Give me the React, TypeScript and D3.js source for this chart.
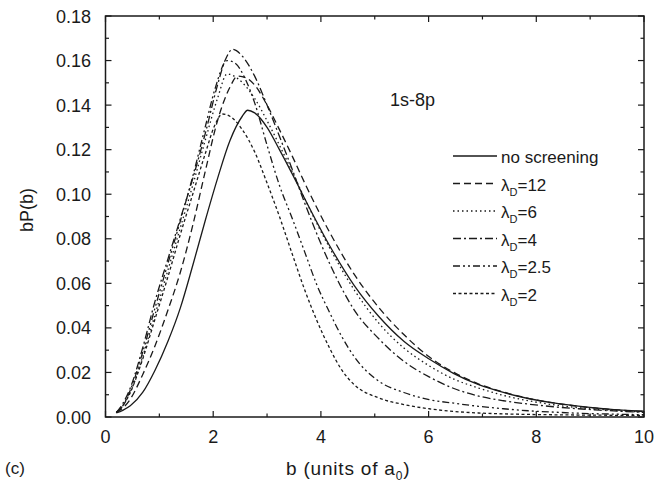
import React from 'react';
import * as d3 from 'd3';

const W = 667;
const H = 485;

const xMajorTicks = [0, 2, 4, 6, 8, 10];
const xMinorTicks = [1, 3, 5, 7, 9];
const yMajorTicks = [0, 0.02, 0.04, 0.06, 0.08, 0.1, 0.12, 0.14, 0.16, 0.18];
const yMinorTicks = [0.01, 0.03, 0.05, 0.07, 0.09, 0.11, 0.13, 0.15, 0.17];

const noScreening: [number, number][] = [
  [0.2, 0.0018], [0.32, 0.003], [0.46, 0.005], [0.69, 0.011], [0.92, 0.021], [1.16, 0.034], [1.39, 0.049],
  [1.62, 0.068], [1.85, 0.088], [2.08, 0.107], [2.31, 0.124], [2.54, 0.135], [2.64, 0.1377], [2.77, 0.1365],
  [3.0, 0.13], [3.23, 0.12], [3.47, 0.109], [3.7, 0.098], [4.16, 0.077], [4.62, 0.059], [5.08, 0.045],
  [5.54, 0.034], [6.01, 0.026], [6.47, 0.0195], [6.93, 0.0145], [7.39, 0.011], [7.85, 0.0083], [8.32, 0.0063],
  [8.78, 0.0049], [9.24, 0.0038], [9.6, 0.0031], [10, 0.0026],
];

const lambda12: [number, number][] = [
  [0.2, 0.002], [0.32, 0.004], [0.46, 0.008], [0.69, 0.019], [0.92, 0.032], [1.16, 0.048], [1.39, 0.065],
  [1.62, 0.086], [1.85, 0.11], [2.08, 0.133], [2.31, 0.148], [2.45, 0.153], [2.63, 0.152], [2.77, 0.149],
  [3.0, 0.14], [3.23, 0.129], [3.47, 0.117], [3.7, 0.105], [4.16, 0.083], [4.62, 0.064], [5.08, 0.049],
  [5.54, 0.037], [6.01, 0.027], [6.47, 0.02], [6.93, 0.0148], [7.39, 0.0112], [7.85, 0.0084], [8.32, 0.0063],
  [8.78, 0.0048], [9.24, 0.0037], [9.6, 0.003], [10, 0.0025],
];

const lambda6: [number, number][] = [
  [0.2, 0.002], [0.32, 0.005], [0.46, 0.011], [0.69, 0.027], [0.92, 0.046], [1.16, 0.066], [1.39, 0.085],
  [1.62, 0.104], [1.85, 0.124], [2.08, 0.143], [2.26, 0.154], [2.45, 0.152], [2.77, 0.143], [3.0, 0.133],
  [3.23, 0.122], [3.47, 0.11], [3.7, 0.098], [4.16, 0.076], [4.62, 0.057], [5.08, 0.042], [5.54, 0.031],
  [6.01, 0.023], [6.47, 0.017], [6.93, 0.013], [7.39, 0.0097], [7.85, 0.0073], [8.32, 0.0055], [8.78, 0.0042],
  [9.24, 0.0033], [9.6, 0.0027], [10, 0.0023],
];

const lambda4: [number, number][] = [
  [0.2, 0.002], [0.32, 0.006], [0.46, 0.013], [0.69, 0.031], [0.92, 0.052], [1.16, 0.071], [1.39, 0.089],
  [1.62, 0.107], [1.85, 0.127], [2.08, 0.149], [2.22, 0.16], [2.36, 0.165], [2.54, 0.162], [2.77, 0.153],
  [3.0, 0.14], [3.23, 0.126], [3.47, 0.111], [3.7, 0.096], [4.16, 0.069], [4.62, 0.048], [5.08, 0.035],
  [5.54, 0.025], [6.01, 0.018], [6.47, 0.0128], [6.93, 0.0094], [7.39, 0.0073], [7.85, 0.0058], [8.32, 0.0046],
  [8.78, 0.0037], [9.24, 0.003], [9.6, 0.0025], [10, 0.0021],
];

const lambda25: [number, number][] = [
  [0.2, 0.002], [0.32, 0.005], [0.46, 0.012], [0.69, 0.029], [0.92, 0.049], [1.16, 0.069], [1.39, 0.088],
  [1.62, 0.108], [1.85, 0.13], [2.03, 0.147], [2.26, 0.16], [2.4, 0.159], [2.59, 0.152], [2.77, 0.141],
  [3.0, 0.122], [3.23, 0.104], [3.47, 0.089], [3.7, 0.074], [3.93, 0.059], [4.16, 0.047], [4.39, 0.036],
  [4.62, 0.027], [5.08, 0.016], [5.54, 0.011], [6.01, 0.0078], [6.47, 0.0062], [6.93, 0.0048], [7.39, 0.0037],
  [7.85, 0.0028], [8.32, 0.0022], [8.78, 0.0017], [9.24, 0.0014], [9.6, 0.0012], [10, 0.001],
];

const lambda2: [number, number][] = [
  [0.2, 0.002], [0.32, 0.005], [0.46, 0.011], [0.69, 0.026], [0.92, 0.044], [1.16, 0.063], [1.39, 0.082],
  [1.62, 0.1], [1.85, 0.118], [2.03, 0.131], [2.17, 0.136], [2.31, 0.135], [2.54, 0.129], [2.77, 0.119],
  [3.0, 0.105], [3.23, 0.09], [3.47, 0.073], [3.7, 0.057], [3.93, 0.043], [4.16, 0.031], [4.39, 0.021],
  [4.62, 0.0145], [5.08, 0.0085], [5.54, 0.0056], [6.01, 0.0037], [6.47, 0.0025], [6.93, 0.0018],
  [7.39, 0.0014], [8.32, 0.001], [9.24, 0.0008], [10, 0.0007],
];

const seriesNames = ['no screening', '12', '6', '4', '2.5', '2'];
const seriesData = [noScreening, lambda12, lambda6, lambda4, lambda25, lambda2];
const seriesDash = ['none', '7,4', '1.5,3', '8,3,2,3', '7,3,2,3,2,3', '3,2.5'];

const FONT = '"Liberation Sans", Arial, Helvetica, sans-serif';
const INK = '#1a1a1a';

export default function App() {
  const x = d3.scaleLinear().domain([0, 10]).range([105.5, 644]);
  const y = d3.scaleLinear().domain([0, 0.18]).range([417, 16]);
  const line = d3
    .line<[number, number]>()
    .x((d) => x(d[0]))
    .y((d) => y(d[1]))
    .curve(d3.curveMonotoneX);

  const [x0, x1] = x.range();
  const [y0, y1] = y.range();
  const majorLen = 6;
  const minorLen = 3.5;

  const legendX = 453;
  const legendY0 = 156;
  const legendDy = 27.5;

  return (
    <svg
      width={W}
      height={H}
      style={{ position: 'absolute', left: 0, top: 0, background: '#fff' }}
      fontFamily={FONT}
    >
      <rect x={0} y={0} width={W} height={H} fill="#fff" />
      <g fill="none" stroke={INK} strokeWidth={1.3}>
        {seriesData.map((d, i) => (
          <path key={i} d={line(d) || ''} strokeDasharray={seriesDash[i] === 'none' ? undefined : seriesDash[i]} />
        ))}
      </g>
      <rect x={x0} y={y1} width={x1 - x0} height={y0 - y1} fill="none" stroke={INK} strokeWidth={1.5} />
      <g stroke={INK} strokeWidth={1.2}>
        {xMajorTicks.map((t) => (
          <g key={'xm' + t}>
            <line x1={x(t)} x2={x(t)} y1={y0} y2={y0 - majorLen} />
            <line x1={x(t)} x2={x(t)} y1={y1} y2={y1 + majorLen} />
          </g>
        ))}
        {xMinorTicks.map((t) => (
          <g key={'xn' + t}>
            <line x1={x(t)} x2={x(t)} y1={y0} y2={y0 - minorLen} />
            <line x1={x(t)} x2={x(t)} y1={y1} y2={y1 + minorLen} />
          </g>
        ))}
        {yMajorTicks.map((t) => (
          <g key={'ym' + t}>
            <line x1={x0} x2={x0 + majorLen} y1={y(t)} y2={y(t)} />
            <line x1={x1} x2={x1 - majorLen} y1={y(t)} y2={y(t)} />
          </g>
        ))}
        {yMinorTicks.map((t) => (
          <g key={'yn' + t}>
            <line x1={x0} x2={x0 + minorLen} y1={y(t)} y2={y(t)} />
            <line x1={x1} x2={x1 - minorLen} y1={y(t)} y2={y(t)} />
          </g>
        ))}
      </g>
      <g fontSize={18} fill={INK}>
        {xMajorTicks.map((t) => (
          <text key={'xl' + t} x={x(t)} y={443} textAnchor="middle">
            {String(t)}
          </text>
        ))}
        {yMajorTicks.map((t) => (
          <text key={'yl' + t} x={91} y={y(t) + 6.5} textAnchor="end">
            {t.toFixed(2)}
          </text>
        ))}
      </g>
      <text x={286} y={475} fontSize={19} letterSpacing={0.8} fill={INK}>
        b (units of a<tspan fontSize={12} dy={5}>0</tspan>
        <tspan dy={-5}>)</tspan>
      </text>
      <text transform="translate(33,210) rotate(-90)" textAnchor="middle" fontSize={18} fill={INK}>
        bP(b)
      </text>
      <text x={5} y={474} fontSize={17} fill={INK}>
        (c)
      </text>
      <text x={390} y={106} fontSize={18} fill={INK}>
        1s-8p
      </text>
      <g>
        {seriesNames.map((name, i) => {
          const ly = legendY0 + i * legendDy;
          return (
            <g key={'lg' + i}>
              <line
                x1={legendX}
                x2={legendX + 44}
                y1={ly}
                y2={ly}
                stroke={INK}
                strokeWidth={1.3}
                strokeDasharray={seriesDash[i] === 'none' ? undefined : seriesDash[i]}
              />
              {i === 0 ? (
                <text x={legendX + 48} y={ly + 7} fontSize={17} fill={INK}>
                  {name}
                </text>
              ) : (
                <text x={legendX + 48} y={ly + 7} fontSize={17} fill={INK}>
                  λ<tspan fontSize={11} dy={5}>D</tspan>
                  <tspan dy={-5}>={name}</tspan>
                </text>
              )}
            </g>
          );
        })}
      </g>
    </svg>
  );
}
